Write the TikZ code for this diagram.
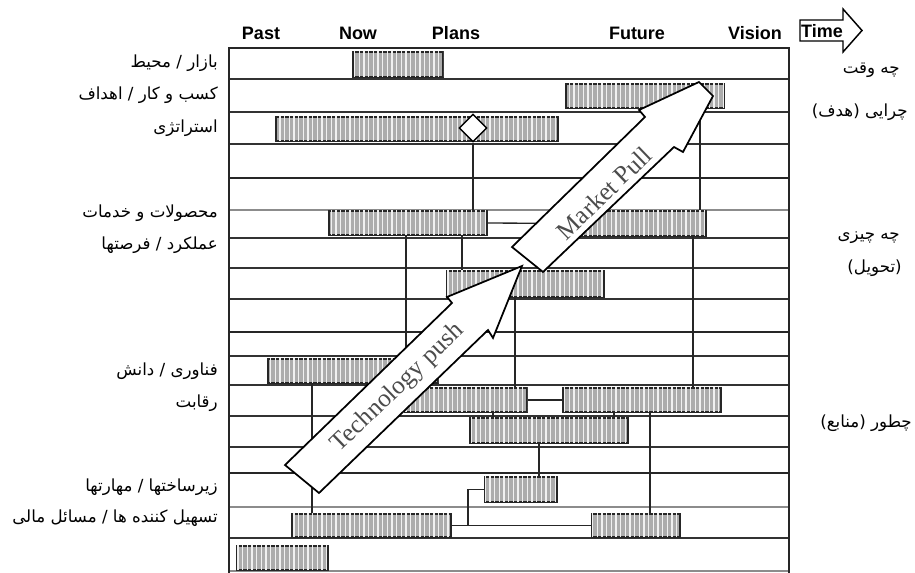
\documentclass[tikz,border=0pt]{standalone}
\usepackage{fontspec}
\setmainfont{Liberation Serif}
\newfontfamily\hdrfont{Liberation Sans}
\newfontfamily\arabicfont[Script=Arabic]{DejaVu Sans}
\TeXXeTstate=1
\usetikzlibrary{shapes.geometric,fit,patterns.meta}
\tikzset{
  gridthin/.style={draw=black!80, line width=0.9pt},
  gridlight/.style={draw=black!45, line width=0.8pt},
  gridthick/.style={draw=black!85, line width=2.2pt},
  conn/.style={draw=black!85, line width=1pt},
  bar/.style={draw=black!85, line width=1.1pt, fill=gray!65, inner sep=0pt,
    postaction={pattern={Lines[angle=90,distance=3.5pt,line width=0.9pt]}, pattern color=gray!12}},
  bigarrow/.style={draw=black, line width=1.3pt, fill=white, line join=miter},
  arrowtext/.style={text=black!70, font=\fontsize{19}{19}\selectfont, inner sep=0pt},
  hdr/.style={font=\hdrfont\bfseries\fontsize{13.5}{14}\selectfont, inner sep=0pt},
  lab/.style={font=\arabicfont\fontsize{12.5}{13}\selectfont, inner sep=0pt, anchor=east},
}
\begin{document}
\begin{tikzpicture}[x=0.75pt,y=-0.75pt]
\useasboundingbox (0,0) rectangle (915,573);
\fill[white] (0,0) rectangle (915,573);
% grid
\foreach \yy in {79,112,144,238,268,299,356,385,416,447,538}
  \draw[gridthin] (229,\yy) -- (789,\yy);
\foreach \yy in {210,507,571}
  \draw[gridlight] (229,\yy) -- (789,\yy);
\foreach \yy in {178,332,473}
  \draw[gridthick] (229,\yy) -- (789,\yy);
\draw[gridthick] (229,575) -- (229,48) -- (789,48) -- (789,575);
% headers
\node[hdr] (past) at (261,33) {Past};
\node[hdr] (now) at (358,33) {Now};
\node[hdr] (plans) at (456,33) {Plans};
\node[hdr] (future) at (637,33) {Future};
\node[hdr] (vision) at (755,33) {Vision};
\draw[line width=1.1pt, fill=white, line join=miter] (800,20) -- (843,20) -- (843,9) -- (862,30.5) -- (843,52) -- (843,41) -- (800,41) -- cycle;
\node[hdr] (time) at (822,31) {Time};
% bars
\node[bar, fit={(353,52) (443,77)}] (b1) {};
\node[bar, fit={(566,84) (724,108)}] (b2) {};
\node[bar, fit={(276,117) (558,141)}] (b3) {};
\node[bar, fit={(329,211) (487,235)}] (b4) {};
\node[bar, fit={(575,211) (706,236)}] (b5) {};
\node[bar, fit={(447,271) (604,297)}] (b6) {};
\node[bar, fit={(268,359) (438,383)}] (b7) {};
\node[bar, fit={(405,388) (527,412)}] (b8) {};
\node[bar, fit={(563,388) (721,412)}] (b9) {};
\node[bar, fit={(470,418) (628,443)}] (b10) {};
\node[bar, fit={(485,477) (557,502)}] (b11) {};
\node[bar, fit={(292,514) (451,537)}] (b12) {};
\node[bar, fit={(592,514) (680,537)}] (b13) {};
\node[bar, fit={(237,546) (328,570)}] (b14) {};
\node[diamond, draw=black, line width=1.1pt, fill=white, inner sep=0pt, minimum size=21pt] (dia) at (473,128) {};
% connectors
\draw[conn] (dia.south) -- (dia.south |- b4.north);
\draw[conn] (b4.east) -- (b5.west);
\draw[conn] (700,0 |- b2.south) -- (700,0 |- b5.north);
\draw[conn] (462,0 |- b4.south) -- (462,0 |- b6.north);
\draw[conn] (406,0 |- b4.south) -- (406,0 |- b7.north);
\draw[conn] (515,0 |- b6.south) -- (515,0 |- b8.north);
\draw[conn] (693,0 |- b5.south) -- (693,0 |- b9.north);
\draw[conn] (312,0 |- b7.south) -- (312,0 |- b12.north);
\draw[conn] (b8.east) -- (b9.west);
\draw[conn] (493,0 |- b8.south) -- (493,0 |- b10.north);
\draw[conn] (614,0 |- b9.south) -- (614,0 |- b10.north);
\draw[conn] (650,0 |- b9.south) -- (650,0 |- b13.north);
\draw[conn] (539,0 |- b10.south) -- (539,0 |- b11.north);
\draw[conn] (b12.east) -- (b13.west);
\draw[conn] (468,0 |- b12.east) |- (b11.west);
% big arrows
\draw[bigarrow] (512,247) -- (645,117) -- (639,110) -- (699,82) -- (713,96) -- (683,152) -- (674,147) -- (543,272) -- cycle;
\draw[bigarrow] (285,465) -- (452,303) -- (447,297) -- (522,266) -- (493,338) -- (488,330) -- (319,493) -- cycle;
\node[arrowtext, rotate=44] (mp) at (604,193) {Market Pull};
\node[arrowtext, rotate=44] (tp) at (398,388) {Technology push};
% left labels
\node[lab] (l1) at (218,63) {\beginR بازار / محیط\endR};
\node[lab] (l2) at (218,95) {\beginR کسب و کار / اهداف\endR};
\node[lab] (l3) at (218,128) {\beginR استراتژی\endR};
\node[lab] (l4) at (218,213) {\beginR محصولات و خدمات\endR};
\node[lab] (l5) at (218,245) {\beginR عملکرد / فرصتها\endR};
\node[lab] (l6) at (218,371) {\beginR فناوری / دانش\endR};
\node[lab] (l7) at (218,403) {\beginR رقابت\endR};
\node[lab] (l8) at (218,487) {\beginR زیرساختها / مهارتها\endR};
\node[lab] (l9) at (218,518) {\beginR تسهیل کننده ها / مسائل مالی\endR};
% right labels
\node[lab] (r1) at (900,70) {\beginR چه وقت\endR};
\node[lab] (r2) at (908,112) {\beginR چرایی (هدف)\endR};
\node[lab] (r3) at (900,238) {\beginR چه چیزی\endR};
\node[lab] (r4) at (902,268) {\beginR (تحویل)\endR};
\node[lab] (r5) at (912,423) {\beginR چطور (منابع)\endR};
\end{tikzpicture}
\end{document}
